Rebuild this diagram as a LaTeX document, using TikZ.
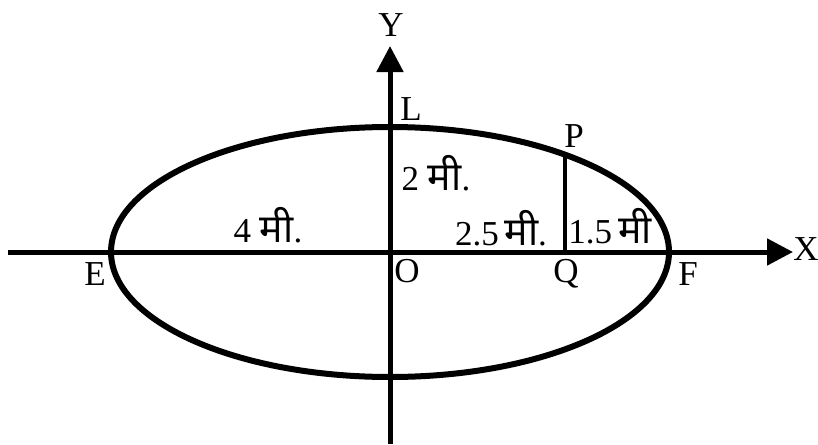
\documentclass[tikz,border=0pt]{standalone}
\usepackage{fontspec}
\setmainfont{Liberation Serif}
\newfontfamily\devfont[Script=Devanagari,Scale=1.12]{Noto Sans}
\usetikzlibrary{arrows.meta}
\newcommand{\mii}{{\devfont मी}}

\begin{document}
\begin{tikzpicture}[
  x=1pt,y=-1pt,
  font=\fontsize{35}{40}\selectfont,
  ax/.style={line width=5pt,-{Triangle[length=26pt,width=26pt]}},
  curve/.style={line width=6pt},
  lbl/.style={anchor=base,inner sep=0pt}
]
\useasboundingbox (0,0) rectangle (818,444);
% points
\coordinate (O) at (390,252);
\coordinate (xl) at (8,252);
\coordinate (xr) at (793,252);
\coordinate (yb) at (390,444);
\coordinate (yt) at (390,46);
\coordinate (Q) at (565,252);
\coordinate (P) at (565,155);
% axes
\draw[ax] (xl) -- (xr);
\draw[ax] (yb) -- (yt);
% ellipse and ordinate
\draw[curve] (O) ellipse [x radius=279,y radius=125];
\draw[line width=4.5pt] (Q) -- (P);
% labels
\node[lbl] (ylab) at (391,37) {Y};
\node[lbl] (xlab) at (806,260) {X};
\node[lbl] (llab) at (411,120) {L};
\node[lbl] (plab) at (574,147) {P};
\node[lbl] (elab) at (95,285) {E};
\node[lbl] (olab) at (407,282) {O};
\node[lbl] (qlab) at (566,282) {Q};
\node[lbl] (flab) at (688,285) {F};
\node[lbl] (b) at (436,190) {2 \mii.};
\node[lbl] (a) at (268,242) {4 \mii.};
\node[lbl] (oq) at (501,245) {2.5\,\mii.};
\node[lbl] (qf) at (610,243) {1.5\,\mii};
\end{tikzpicture}
\end{document}
